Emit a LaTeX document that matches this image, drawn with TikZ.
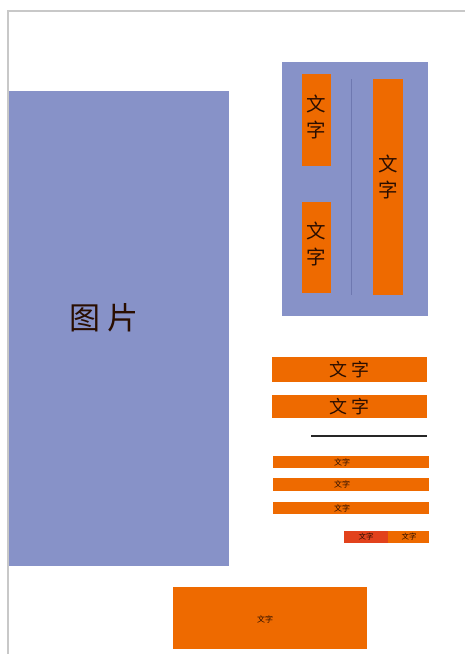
\documentclass[tikz,border=0pt]{standalone}
\usepackage{fontspec}
\newfontfamily\cjk{Noto Sans CJK SC}
\definecolor{panelblue}{HTML}{8792C8}
\definecolor{barorange}{HTML}{EE6A00}
\definecolor{redorange}{HTML}{E2421C}
\definecolor{framegray}{HTML}{C8C8C8}
\definecolor{txt}{HTML}{2A0E00}
\definecolor{divline}{HTML}{6E78B0}
\begin{document}
\begin{tikzpicture}[x=1pt,y=-1pt,
  panel/.style={fill=panelblue,draw=none},
  obox/.style={fill=barorange,draw=none},
  lbl/.style={font=\cjk,text=txt,inner sep=0pt,align=center}]
\useasboundingbox (0,0) rectangle (465,654);
\fill[white] (0,0) rectangle (465,654);
% frame
\draw[framegray,line width=1.2pt] (8,654) -- (8,11) -- (465,11);
% picture block
\fill[panel] (8.6,91) rectangle (229,566);
\node[lbl,font=\cjk\fontsize{31}{33}\selectfont] (pic) at (104,318) {图\hspace{0.2em}片};
% top-right panel
\fill[panel] (282,62) rectangle (428,316);
\fill[obox] (302,74) rectangle (331,166);
\node[lbl,font=\cjk\fontsize{19.5}{26}\selectfont] (a1) at (316.5,117) {文\\字};
\fill[obox] (302,202) rectangle (331,293);
\node[lbl,font=\cjk\fontsize{19.5}{26}\selectfont] (a2) at (316.5,244) {文\\字};
\draw[divline,line width=0.8pt] (351,79) -- (351,295);
\fill[obox] (373,79) rectangle (403,295);
\node[lbl,font=\cjk\fontsize{19.5}{26}\selectfont] (a3) at (388,177) {文\\字};
% large bars
\fill[obox] (272,357) rectangle (427,382);
\node[lbl,font=\cjk\fontsize{18}{20}\selectfont] (b1) at (349.5,369.5) {文\hspace{0.2em}字};
\fill[obox] (272,395) rectangle (427,418);
\node[lbl,font=\cjk\fontsize{18}{20}\selectfont] (b2) at (349.5,406.5) {文\hspace{0.2em}字};
% rule line
\draw[black!85,line width=1.2pt] (311,436) -- (427,436);
% small bars
\fill[obox] (273,456) rectangle (429,468);
\node[lbl,font=\cjk\fontsize{8}{9}\selectfont] (c1) at (342,462) {文字};
\fill[obox] (273,478) rectangle (429,491);
\node[lbl,font=\cjk\fontsize{8}{9}\selectfont] (c2) at (342,484.5) {文字};
\fill[obox] (273,502) rectangle (429,514);
\node[lbl,font=\cjk\fontsize{8}{9}\selectfont] (c3) at (342,508) {文字};
% tiny pair
\fill[redorange] (344,531) rectangle (388,543);
\fill[obox] (388,531) rectangle (429,543);
\node[lbl,font=\cjk\fontsize{7.5}{8}\selectfont] (d1) at (366,537) {文字};
\node[lbl,font=\cjk\fontsize{7.5}{8}\selectfont] (d2) at (409,537) {文字};
% bottom box
\fill[obox] (173,587) rectangle (367,649);
\node[lbl,font=\cjk\fontsize{8}{9}\selectfont] (e1) at (265,619) {文字};
\end{tikzpicture}
\end{document}
